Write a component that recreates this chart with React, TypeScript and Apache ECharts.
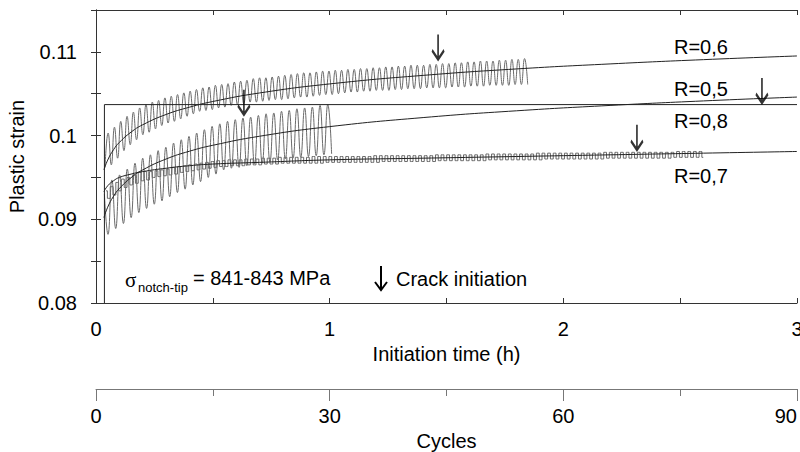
import React, { useEffect, useRef } from "react";
import * as echarts from "echarts";

// ---- Data (time in hours, plastic strain) ----
// R=0,6 : per-cycle minimum / maximum strain
const r06Start = 0.0385;
const r06Period = 0.027;
const r06Troughs = [
  0.0962, 0.0965, 0.0973, 0.0982, 0.0989, 0.0995, 0.1001, 0.1004, 0.1008, 0.1012,
  0.1015, 0.1017, 0.1020, 0.1023, 0.1026, 0.1029, 0.1030, 0.1031, 0.1033, 0.1034,
  0.1036, 0.1037, 0.1038, 0.1040, 0.1040, 0.1041, 0.1042, 0.1043, 0.1043, 0.1044,
  0.1045, 0.1046, 0.1046, 0.1047, 0.1048, 0.1049, 0.1049, 0.1050, 0.1051, 0.1052,
  0.1052, 0.1053, 0.1053, 0.1054, 0.1054, 0.1054, 0.1055, 0.1055, 0.1056, 0.1056,
  0.1056, 0.1057, 0.1057, 0.1057, 0.1057, 0.1058, 0.1058, 0.1058, 0.1059, 0.1059,
  0.1059, 0.1060, 0.1060, 0.1060, 0.1060, 0.1061, 0.1061, 0.1061,
];
const r06Peaks = [
  0.1003, 0.1010, 0.1017, 0.1023, 0.1028, 0.1033, 0.1037, 0.1040, 0.1042, 0.1045,
  0.1047, 0.1049, 0.1051, 0.1053, 0.1055, 0.1057, 0.1058, 0.1060, 0.1061, 0.1062,
  0.1064, 0.1065, 0.1066, 0.1068, 0.1069, 0.1069, 0.1070, 0.1071, 0.1072, 0.1073,
  0.1074, 0.1075, 0.1075, 0.1076, 0.1077, 0.1077, 0.1078, 0.1078, 0.1079, 0.1079,
  0.1080, 0.1080, 0.1081, 0.1081, 0.1082, 0.1082, 0.1083, 0.1083, 0.1084, 0.1084,
  0.1084, 0.1085, 0.1085, 0.1086, 0.1086, 0.1087, 0.1087, 0.1088, 0.1088, 0.1089,
  0.1089, 0.1089, 0.1090, 0.1090, 0.1091, 0.1091, 0.1092,
];
// R=0,5
const r05First = [0.036, 0.093];
const r05Start = 0.0514;
const r05Period = 0.033;
const r05Troughs = [
  0.0882, 0.0889, 0.0895, 0.0902, 0.0908, 0.0913, 0.0918, 0.0922, 0.0927, 0.0932,
  0.0936, 0.0941, 0.0945, 0.0950, 0.0954, 0.0959, 0.0961, 0.0962, 0.0964, 0.0966,
  0.0967, 0.0969, 0.0971, 0.0972, 0.0973, 0.0974, 0.0975, 0.0976, 0.0977, 0.0978,
];
const r05Peaks = [
  0.0947, 0.0953, 0.0960, 0.0967, 0.0973, 0.0977, 0.0982, 0.0986, 0.0991, 0.0995,
  0.0999, 0.1003, 0.1007, 0.1011, 0.1014, 0.1017, 0.1019, 0.1021, 0.1022, 0.1024,
  0.1026, 0.1027, 0.1029, 0.1030, 0.1032, 0.1033, 0.1034, 0.1036, 0.1037,
];
// R=0,7
const r07Start = 0.0428;
const r07Period = 0.024;
const r07Highs = [
  0.0934, 0.0939, 0.0944, 0.0948, 0.0950, 0.0953, 0.0956, 0.0957, 0.0957, 0.0958,
  0.0959, 0.0960, 0.0962, 0.0963, 0.0964, 0.0965, 0.0966, 0.0967, 0.0968, 0.0969,
  0.0970, 0.0970, 0.0971, 0.0971, 0.0971, 0.0972, 0.0972, 0.0972, 0.0973, 0.0973,
  0.0973, 0.0974, 0.0974, 0.0974, 0.0974, 0.0974, 0.0974, 0.0975, 0.0975, 0.0975,
  0.0975, 0.0975, 0.0975, 0.0975, 0.0975, 0.0975, 0.0975, 0.0975, 0.0976, 0.0976,
  0.0976, 0.0976, 0.0976, 0.0976, 0.0976, 0.0976, 0.0976, 0.0976, 0.0976, 0.0977,
  0.0977, 0.0977, 0.0977, 0.0977, 0.0977, 0.0977, 0.0977, 0.0977, 0.0978, 0.0978,
  0.0978, 0.0978, 0.0978, 0.0978, 0.0978, 0.0978, 0.0978, 0.0979, 0.0979, 0.0979,
  0.0979, 0.0979, 0.0979, 0.0979, 0.0979, 0.0979, 0.0979, 0.0979, 0.0979, 0.0980,
  0.0980, 0.0980, 0.0980, 0.0980, 0.0980, 0.0980, 0.0980, 0.0980, 0.0980, 0.0980,
  0.0980, 0.0980, 0.0981, 0.0981, 0.0981, 0.0981, 0.0981,
];
const r07Lows = [
  0.0925, 0.0929, 0.0934, 0.0938, 0.0941, 0.0943, 0.0946, 0.0947, 0.0950, 0.0951,
  0.0952, 0.0953, 0.0954, 0.0956, 0.0957, 0.0958, 0.0959, 0.0960, 0.0961, 0.0962,
  0.0963, 0.0963, 0.0964, 0.0964, 0.0964, 0.0965, 0.0965, 0.0965, 0.0966, 0.0966,
  0.0966, 0.0967, 0.0967, 0.0967, 0.0967, 0.0967, 0.0967, 0.0967, 0.0967, 0.0968,
  0.0968, 0.0968, 0.0968, 0.0968, 0.0968, 0.0968, 0.0968, 0.0968, 0.0968, 0.0969,
  0.0969, 0.0969, 0.0969, 0.0969, 0.0969, 0.0969, 0.0969, 0.0969, 0.0969, 0.0970,
  0.0970, 0.0970, 0.0970, 0.0970, 0.0970, 0.0970, 0.0970, 0.0970, 0.0971, 0.0971,
  0.0971, 0.0971, 0.0971, 0.0971, 0.0971, 0.0971, 0.0971, 0.0971, 0.0972, 0.0972,
  0.0972, 0.0972, 0.0972, 0.0972, 0.0972, 0.0972, 0.0972, 0.0972, 0.0972, 0.0973,
  0.0973, 0.0973, 0.0973, 0.0973, 0.0973, 0.0973, 0.0973, 0.0973, 0.0973, 0.0973,
  0.0973, 0.0974, 0.0974, 0.0974, 0.0974, 0.0974, 0.0974,
];
// Fitted curves (shared time grid)
const fitT = [0.034, 0.05, 0.075, 0.1, 0.15, 0.2, 0.3, 0.4, 0.5, 0.7, 1.0, 1.4, 1.8, 2.2, 2.6, 3.0];
const r06FitV = [0.09591, 0.09707, 0.09831, 0.09918, 0.10041, 0.10129, 0.10252, 0.10339, 0.10407, 0.10509, 0.10617, 0.10719, 0.10796, 0.10856, 0.10907, 0.10951];
const r05FitV = [0.0902, 0.09144, 0.09275, 0.09367, 0.09497, 0.0959, 0.0972, 0.09813, 0.09884, 0.09992, 0.10107, 0.10215, 0.10296, 0.1036, 0.10414, 0.1046];
const r07FitV = [0.0933, 0.094, 0.0946, 0.095, 0.0954, 0.0957, 0.0961, 0.0964, 0.0966, 0.0968, 0.0971, 0.0973, 0.0975, 0.0977, 0.0979, 0.0981];
// R=0,8
const r08T = [0.036, 0.036, 3.0];
const r08V = [0.08, 0.1037, 0.1037];
// Crack initiation markers
const crackT = [1.464, 0.633, 2.315, 2.85];
const crackV = [0.1091, 0.1025, 0.0983, 0.1039];
// Labels
const curveLabels = ["R=0,6", "R=0,5", "R=0,8", "R=0,7"];

const FONT = '"Liberation Sans", Arial, sans-serif';

function cycles(start: number, period: number, a: number[], b: number[]) {
  const pts: number[][] = [];
  for (let i = 0; i < a.length; i++) {
    pts.push([start + i * period, a[i]]);
    if (i < b.length) pts.push([start + (i + 0.5) * period, b[i]]);
  }
  return pts;
}
const zip = (t: number[], v: number[]) => t.map((x, i) => [x, v[i]]);

export default function App() {
  const ref = useRef<HTMLDivElement>(null);
  useEffect(() => {
    if (!ref.current) return;
    const chart = echarts.init(ref.current, null, { renderer: "svg" });
    const axisColor = "#333";
    const osc = { color: "#6a6a6a", width: 1 };
    const fit = { color: "#222", width: 1 };
    const baseX = {
      type: "value",
      min: 0,
      max: 3,
      interval: 0.5,
      splitLine: { show: false },
      axisLine: { show: true, lineStyle: { color: axisColor, width: 1 } },
      axisTick: { show: true, inside: true, length: 5, lineStyle: { color: axisColor } },
    };
    const baseY = {
      type: "value",
      min: 0.08,
      max: 0.115,
      interval: 0.005,
      splitLine: { show: false },
      axisLine: { show: true, lineStyle: { color: axisColor, width: 1 } },
      axisTick: { show: true, inside: true, length: 5, lineStyle: { color: axisColor } },
    };
    const r05Data = [r05First, ...cycles(r05Start, r05Period, r05Troughs, r05Peaks)];
    chart.setOption({
      animation: false,
      grid: { left: 96, right: 3, top: 10, bottom: 149, containLabel: false, outerBoundsMode: "none" },
      xAxis: [
        {
          ...baseX,
          position: "bottom",
          name: "Initiation time (h)",
          nameLocation: "middle",
          nameGap: 40,
          nameTextStyle: { fontFamily: FONT, fontSize: 20, color: "#000" },
          axisLabel: {
            margin: 16,
            fontFamily: FONT,
            fontSize: 20,
            color: "#000",
            formatter: (v: number) => {
              const r = Math.round(v * 2);
              return r % 2 === 0 ? String(r / 2) : "";
            },
          },
        },
        { ...baseX, position: "top", axisLabel: { show: false } },
        {
          type: "value",
          position: "bottom",
          offset: 86,
          min: 0,
          max: 90,
          interval: 30,
          splitLine: { show: false },
          axisLine: { show: true, lineStyle: { color: "#777", width: 1 } },
          axisTick: { show: true, inside: false, length: 12, lineStyle: { color: "#777" } },
          minorTick: { show: true, splitNumber: 2, length: 7, lineStyle: { color: "#777" } },
          name: "Cycles",
          nameLocation: "middle",
          nameGap: 42,
          nameTextStyle: { fontFamily: FONT, fontSize: 20, color: "#000" },
          axisLabel: { margin: 17, fontFamily: FONT, fontSize: 20, color: "#000", alignMaxLabel: "right" },
        },
      ],
      yAxis: [
        {
          ...baseY,
          position: "left",
          name: "Plastic strain",
          nameLocation: "middle",
          nameGap: 66,
          nameTextStyle: { fontFamily: FONT, fontSize: 20, color: "#000" },
          axisLabel: {
            margin: 19,
            fontFamily: FONT,
            fontSize: 20,
            color: "#000",
            formatter: (v: number) => {
              const r = Math.round(v * 1000);
              return r % 10 === 0 ? String(r / 1000) : "";
            },
          },
        },
        { ...baseY, position: "right", axisLabel: { show: false } },
      ],
      series: [
        { type: "line", data: cycles(r06Start, r06Period, r06Troughs, r06Peaks), showSymbol: false, smooth: 0.5, lineStyle: osc, silent: true },
        { type: "line", data: r05Data, showSymbol: false, smooth: 0.5, lineStyle: osc, silent: true },
        { type: "line", data: cycles(r07Start, r07Period, r07Highs, r07Lows), showSymbol: false, step: "middle", lineStyle: osc, silent: true },
        { type: "line", data: zip(fitT, r06FitV), showSymbol: false, smooth: true, lineStyle: fit, silent: true },
        { type: "line", data: zip(fitT, r05FitV), showSymbol: false, smooth: true, lineStyle: fit, silent: true },
        { type: "line", data: zip(fitT, r07FitV), showSymbol: false, smooth: true, lineStyle: fit, silent: true },
        { type: "line", data: zip(r08T, r08V), showSymbol: false, lineStyle: fit, silent: true },
        {
          type: "scatter",
          data: zip(crackT, crackV),
          symbol: "path://M6,0L6,25M0,16L6,25L12,16",
          symbolSize: [12, 25],
          symbolOffset: [0, "-50%"],
          itemStyle: { color: "rgba(0,0,0,0)", borderColor: "#000", borderWidth: 2.4 },
          silent: true,
          z: 5,
        },
      ],
      graphic: [
        { type: "text", x: 674, y: 47, style: { text: curveLabels[0], font: `20px ${FONT}`, fill: "#000", verticalAlign: "middle" } },
        { type: "text", x: 674, y: 89, style: { text: curveLabels[1], font: `20px ${FONT}`, fill: "#000", verticalAlign: "middle" } },
        { type: "text", x: 674, y: 121, style: { text: curveLabels[2], font: `20px ${FONT}`, fill: "#000", verticalAlign: "middle" } },
        { type: "text", x: 674, y: 176, style: { text: curveLabels[3], font: `20px ${FONT}`, fill: "#000", verticalAlign: "middle" } },
        { type: "text", x: 125, y: 280, style: { text: "σ", font: `21px "Liberation Serif", serif`, fill: "#000", verticalAlign: "middle" } },
        { type: "text", x: 138, y: 287, style: { text: "notch-tip", font: `13px ${FONT}`, fill: "#000", verticalAlign: "middle" } },
        { type: "text", x: 193, y: 278, style: { text: "= 841-843 MPa", font: `20px ${FONT}`, fill: "#000", verticalAlign: "middle" } },
        { type: "text", x: 396, y: 279, style: { text: "Crack initiation", font: `20px ${FONT}`, fill: "#000", verticalAlign: "middle" } },
        { type: "polyline", shape: { points: [[381, 266], [381, 290]] }, style: { stroke: "#000", lineWidth: 2, fill: null } },
        { type: "polyline", shape: { points: [[375, 282], [381, 290], [387, 282]] }, style: { stroke: "#000", lineWidth: 2, fill: null } },
      ],
    });
    return () => chart.dispose();
  }, []);
  return <div ref={ref} style={{ position: "absolute", left: 0, top: 0, width: 800, height: 452 }} />;
}
